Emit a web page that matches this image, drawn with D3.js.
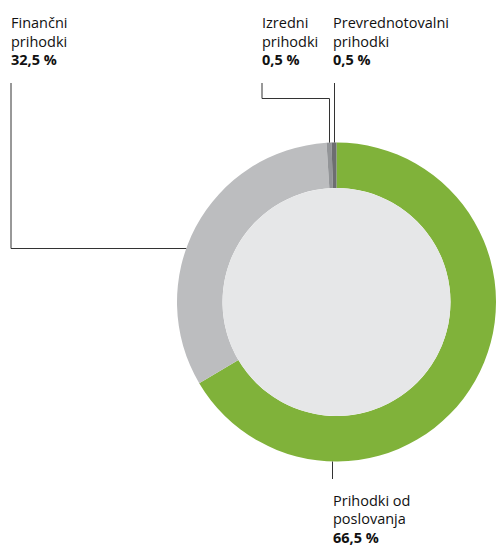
<!DOCTYPE html>
<html lang="sl">
  <head>
    <meta charset="utf-8">
    <title>Struktura prihodkov</title>
    <script src="https://cdn.jsdelivr.net/npm/d3@7"></script>
<style>
body { margin: 0; background: #fff; }
svg text { font-family: "Open Sans", sans-serif; font-size: 14.5px; fill: #111; }
svg text .val { font-weight: bold; }
</style>
  </head>
  <body>
    <script>
      // data
      var categories = ["Prihodki od poslovanja", "Finančni prihodki", "Izredni prihodki", "Prevrednotovalni prihodki"];
      var shares = [66.5, 32.5, 0.5, 0.5];
      var shareLabels = ["66,5 %", "32,5 %", "0,5 %", "0,5 %"];
      var labelLines = [["Prihodki od", "poslovanja"], ["Finančni", "prihodki"], ["Izredni", "prihodki"], ["Prevrednotovalni", "prihodki"]];
      var colors = ["#80b23a", "#bcbdbf", "#939598", "#6d6e71"];

      var width = 496, height = 546;
      var cx = 336.5, cy = 302, outerR = 159.5, innerR = 114;

      var svg = d3.select("body").append("svg")
        .attr("width", width)
        .attr("height", height);

      var pie = d3.pie().sort(null).value(function(d) { return d; });
      var arcs = pie(shares);
      var arc = d3.arc().innerRadius(innerR).outerRadius(outerR);

      var g = svg.append("g").attr("transform", "translate(" + cx + "," + cy + ")");
      g.selectAll("path")
        .data(arcs)
        .enter()
        .append("path")
        .attr("d", arc)
        .attr("fill", function(d, i) { return colors[i]; });
      g.append("circle").attr("r", innerR).attr("fill", "#e6e7e8");

      // point on the outer rim at a slice's middle angle
      function rimX(i) {
        var a = (arcs[i].startAngle + arcs[i].endAngle) / 2;
        return cx + outerR * Math.sin(a);
      }
      function rimYatX(x) { return cy - Math.sqrt(outerR * outerR - (x - cx) * (x - cx)); }

      // label placement (x of text, baseline of first line)
      var labelPos = [[333, 505.5], [11, 28], [262, 28], [333, 28]];
      var lineH = 18.5;

      var line = d3.line();
      var leaders = [];
      // Prihodki od poslovanja: short tick under the ring
      leaders.push([[332.5, cy + outerR], [332.5, 479]]);
      // Finančni: down then right to the ring
      var fy = 248.5;
      leaders.push([[11, 83], [11, fy], [cx - Math.sqrt(outerR * outerR - (fy - cy) * (fy - cy)), fy]]);
      // Izredni: down, right, down to its sliver
      var ix = Math.round(rimX(2)) + 0.5;
      leaders.push([[262, 83], [262, 98.5], [ix, 98.5], [ix, rimYatX(ix)]]);
      // Prevrednotovalni: straight down
      var px = Math.round(rimX(3)) + 0.5;
      leaders.push([[px, 83], [px, rimYatX(px)]]);

      svg.selectAll("path.leader")
        .data(leaders)
        .enter()
        .append("path")
        .attr("class", "leader")
        .attr("d", line)
        .attr("fill", "none")
        .attr("stroke", "#333")
        .attr("stroke-width", 1);

      var labels = svg.selectAll("text.lbl")
        .data(categories)
        .enter()
        .append("text")
        .attr("class", "lbl")
        .attr("x", function(d, i) { return labelPos[i][0]; })
        .attr("y", function(d, i) { return labelPos[i][1]; });
      labels.each(function(d, i) {
        var t = d3.select(this);
        labelLines[i].forEach(function(s, j) {
          t.append("tspan").attr("x", labelPos[i][0]).attr("dy", j === 0 ? 0 : lineH).text(s);
        });
        t.append("tspan").attr("class", "val").attr("x", labelPos[i][0]).attr("dy", lineH).text(shareLabels[i]);
      });
    </script>
  </body>
</html>
